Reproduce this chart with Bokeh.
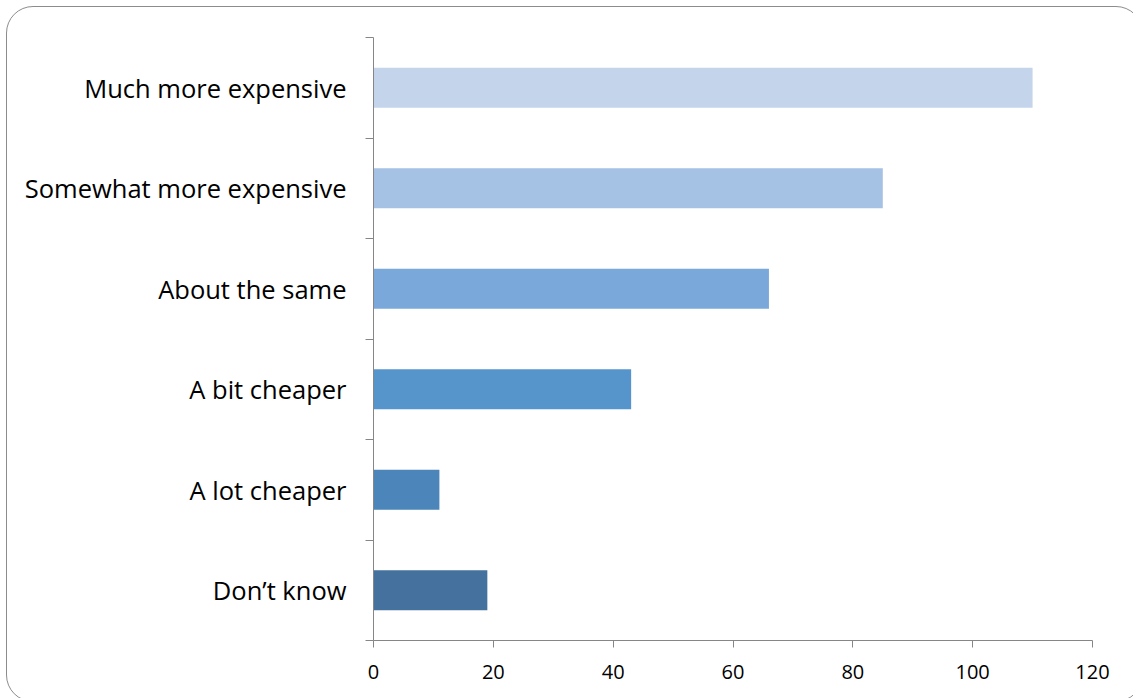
from bokeh.plotting import figure
from bokeh.models import FixedTicker, Range1d, ColumnDataSource, InlineStyleSheet
from bokeh.embed import file_html
from bokeh.resources import INLINE

# Data (bottom to top)
categories = ["Don\u2019t know", "A lot cheaper", "A bit cheaper", "About the same",
              "Somewhat more expensive", "Much more expensive"]
values = [19, 11, 43, 66, 85, 110]
colors = ["#44719D", "#4C85B9", "#5695CC", "#7BA8DA", "#A5C1E4", "#C4D5EB"]
x_ticks = [0, 20, 40, 60, 80, 100, 120]

ypos = [i + 0.5 for i in range(len(categories))]
src = ColumnDataSource(dict(y=ypos, v=values, c=colors, name=categories))

# rounded frame drawn around the chart (extends past right/bottom edges)
frame_css = InlineStyleSheet(css="""
:host { overflow: hidden; }
:host::after {
  content: "";
  position: absolute;
  left: 6px; top: 6px;
  width: 1137px; height: 696px;
  box-sizing: border-box;
  border: 1.5px solid #8C8C8C;
  border-radius: 27px;
  pointer-events: none;
  z-index: 10;
}
""")

p = figure(width=1133, height=698, output_backend="svg", toolbar_location=None,
           x_range=Range1d(0, 120), y_range=Range1d(0, len(categories)),
           min_border_left=373, min_border_right=41, min_border_top=37,
           min_border_bottom=58, stylesheets=[frame_css])
p.outline_line_color = None
p.xgrid.visible = False
p.ygrid.visible = False
p.background_fill_color = "white"
p.border_fill_color = "white"

p.hbar(y="y", right="v", left=0, height=0.4, fill_color="c", line_color=None, source=src)

axis_col = "#868686"
# x axis
xa = p.xaxis[0]
xa.ticker = FixedTicker(ticks=x_ticks)
xa.axis_line_color = axis_col
xa.major_tick_line_color = axis_col
xa.major_tick_in = 0
xa.major_tick_out = 7
xa.minor_tick_line_color = None
xa.major_label_text_font = "Open Sans"
xa.major_label_text_font_size = "20px"
xa.major_label_text_color = "#000000"
xa.major_label_standoff = 17

# y axis
ya = p.yaxis[0]
ya.ticker = FixedTicker(ticks=ypos, minor_ticks=list(range(len(categories) + 1)))
ya.major_label_overrides = {y: n for y, n in zip(ypos, categories)}
ya.axis_line_color = axis_col
ya.major_tick_line_color = None
ya.major_tick_in = 0
ya.major_tick_out = 0
ya.minor_tick_line_color = axis_col
ya.minor_tick_in = 0
ya.minor_tick_out = 8
ya.major_label_text_font = "Open Sans"
ya.major_label_text_font_size = "25.5px"
ya.major_label_text_color = "#000000"
ya.major_label_standoff = 19

open("out.html", "w").write(file_html(p, INLINE))
